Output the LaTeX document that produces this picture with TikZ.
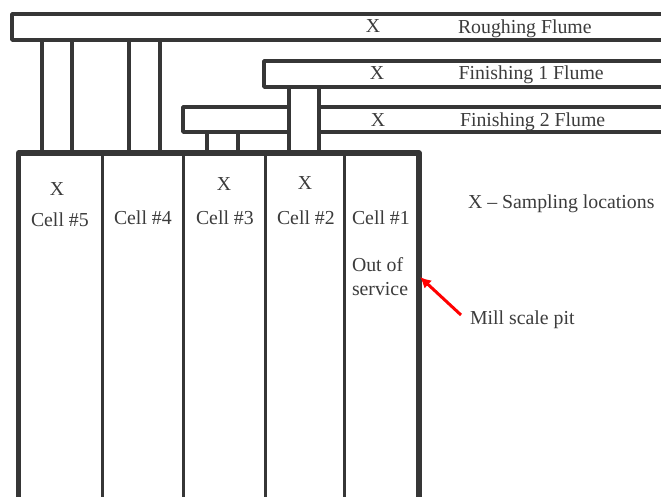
\documentclass[tikz,border=0pt]{standalone}
\usepackage{fontspec}
\setmainfont{Liberation Serif}
\usetikzlibrary{arrows.meta}
\definecolor{ink}{HTML}{363636}
\definecolor{txt}{HTML}{3C3C3C}
\tikzset{
  pipe/.style={draw=ink,line width=3.6pt,line join=round},
  wall/.style={draw=ink,line width=5.4pt,line join=round},
  divider/.style={draw=ink,line width=3pt},
  lab/.style={anchor=base west,inner sep=0pt,outer sep=0pt,text=txt,font=\fontsize{19.8}{22}\selectfont},
  xmark/.style={anchor=base,inner sep=0pt,outer sep=0pt,text=txt,font=\fontsize{19.8}{22}\selectfont}
}
\begin{document}
\begin{tikzpicture}[x=1pt,y=-1pt]
\useasboundingbox (0,0) rectangle (661,497);
\fill[white] (0,0) rectangle (661,497);
% flumes
\draw[pipe] (661,14) -- (12,14) -- (12,40) -- (661,40);
\draw[pipe] (661,61) -- (264,61) -- (264,87) -- (661,87);
\draw[pipe] (289,107) -- (183,107) -- (183,132) -- (289,132);
\draw[pipe] (319,107) -- (661,107);
\draw[pipe] (319,132) -- (661,132);
% risers
\foreach \xx in {42,72,129,160} {\draw[pipe] (\xx,40) -- (\xx,153);}
\foreach \xx in {207,238} {\draw[pipe] (\xx,132) -- (\xx,153);}
\foreach \xx in {289,319} {\draw[pipe] (\xx,87) -- (\xx,153);}
% cells
\foreach \xx in {102,183,265,344} {\draw[divider] (\xx,153) -- (\xx,497);}
\draw[wall] (18.5,497) -- (18.5,153) -- (419,153) -- (419,497);
% labels
\node[xmark] (xr) at (373,33) {X};
\node[lab] (rf) at (458,33.5) {Roughing Flume};
\node[xmark] (xa) at (377,80) {X};
\node[lab] (fa) at (458.5,80) {Finishing 1 Flume};
\node[xmark] (xb) at (378,127) {X};
\node[lab] (fb) at (460,127) {Finishing 2 Flume};
\node[xmark] (x5) at (57,196) {X};
\node[xmark] (x3) at (224,191) {X};
\node[xmark] (x2) at (305,190) {X};
\node[lab] (c5) at (31,226) {Cell \#5};
\node[lab] (c4) at (114,225) {Cell \#4};
\node[lab] (c3) at (196,224) {Cell \#3};
\node[lab] (c2) at (277,224) {Cell \#2};
\node[lab] (c1) at (352,224) {Cell \#1};
\node[lab] (o1) at (352,271) {Out of};
\node[lab] (o2) at (352,295) {service};
\node[lab] (leg) at (468,208) {X – Sampling locations};
\node[lab] (pit) at (470,324) {Mill scale pit};
\coordinate (pitstart) at (461,315);
\coordinate (pitwall) at (420,277);
\draw[red,line width=3pt,-{Latex[length=11pt,width=11pt]}] (pitstart) -- (pitwall);
\end{tikzpicture}
\end{document}
